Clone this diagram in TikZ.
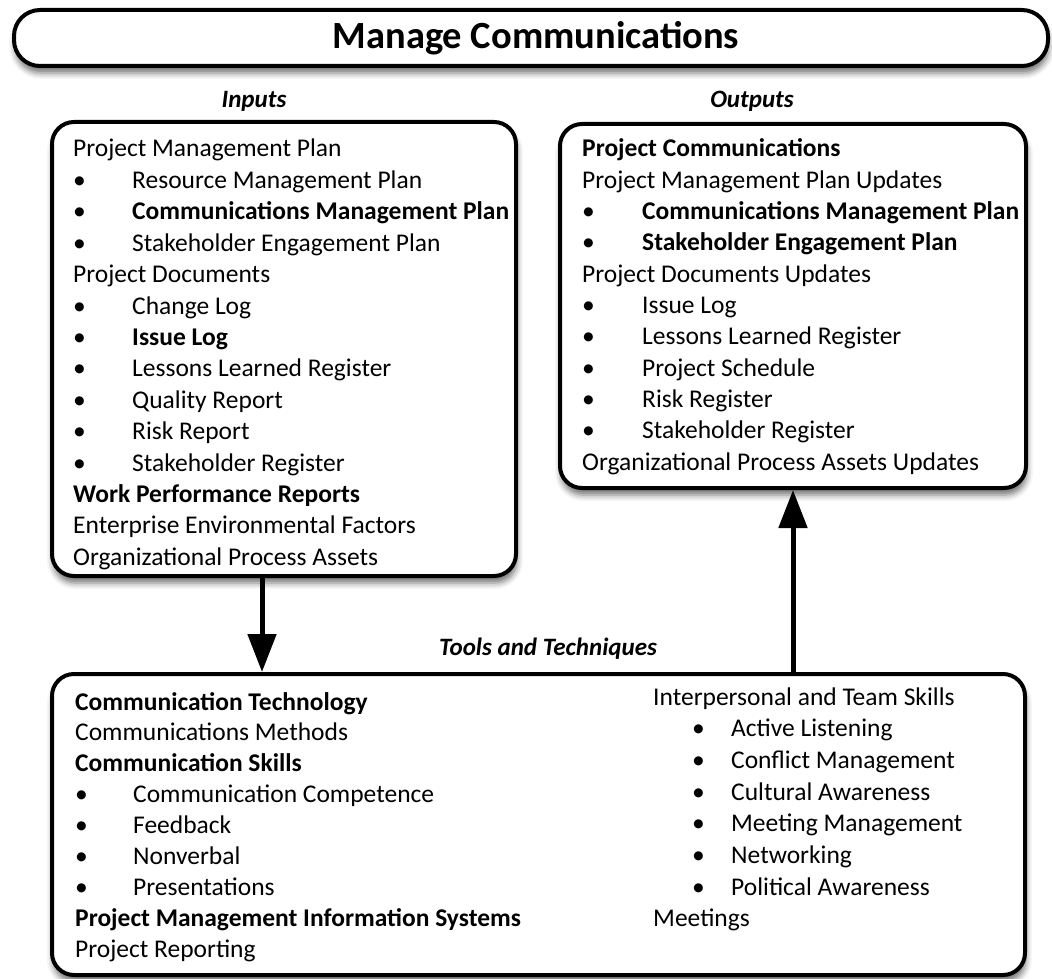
\documentclass[tikz,border=0pt]{standalone}
\usepackage{fontspec}
\setmainfont{Carlito}
\usetikzlibrary{
  arrows.meta,
  shadows.blur
}
\newcommand{\blt}[2][59pt]{\makebox[#1][l]{\textbullet}#2}
\newcommand{\rblt}[1]{\makebox[78pt][l]{\hspace{39pt}\textbullet}#1}

\begin{document}
\begin{tikzpicture}[
  x=1pt, y=-1pt,
  font=\fontsize{25.5}{30}\selectfont,
  box/.style = {draw, line width=4pt, rounded corners=22pt, fill=white,
    blur shadow={shadow xshift=1pt, shadow yshift=-7pt,
      shadow blur radius=6pt, shadow opacity=55}},
  head/.style = {font=\fontsize{25}{30}\selectfont\bfseries\itshape,
    anchor=base, inner sep=0pt},
  line/.style = {anchor=base west, inner sep=0pt},
  flow/.style = {line width=5pt, -{Triangle[width=28pt,length=38pt]}}]
  \useasboundingbox (0,0) rectangle (1052,979);

  \node[box, rounded corners=26pt, minimum width=1034pt, minimum height=56pt,
    font=\fontsize{38.5}{42}\selectfont\bfseries] (title) at (531,38)
    {\hspace{10pt}Manage Communications};
  \node[box, minimum width=464pt, minimum height=454pt] (inputs) at (284,349) {};
  \node[box, minimum width=466pt, minimum height=364pt] (outputs) at (793,306) {};
  \node[box, minimum width=973pt, minimum height=301pt] (tools) at (538.5,824.5) {};

  \node[head] (inlabel) at (254,108) {Inputs};
  \node[head] (outlabel) at (752,108) {Outputs};
  \node[head] (toollabel) at (548,655) {Tools and Techniques};

  \foreach \t [count=\i] in {Project Management Plan,
      \blt{Resource Management Plan}, \blt{\textbf{Communications Management Plan}},
      \blt{Stakeholder Engagement Plan}, Project Documents, \blt{Change Log},
      \blt{\textbf{Issue Log}}, \blt{Lessons Learned Register}, \blt{Quality Report},
      \blt{Risk Report}, \blt{Stakeholder Register}, \textbf{Work Performance Reports},
      Enterprise Environmental Factors, Organizational Process Assets}
    \node[line] (in\i) at (73,{157+31.4*(\i-1)}) {\t};

  \foreach \t [count=\i] in {\textbf{Project Communications},
      Project Management Plan Updates, \blt[60pt]{\textbf{Communications Management Plan}},
      \blt[60pt]{\textbf{Stakeholder Engagement Plan}}, Project Documents Updates,
      \blt[60pt]{Issue Log}, \blt[60pt]{Lessons Learned Register},
      \blt[60pt]{Project Schedule}, \blt[60pt]{Risk Register},
      \blt[60pt]{Stakeholder Register}, Organizational Process Assets Updates}
    \node[line] (out\i) at (582,{157+31.3*(\i-1)}) {\t};

  \foreach \t [count=\i] in {\textbf{Communication Technology},
      Communications Methods, \textbf{Communication Skills},
      \blt[58pt]{Communication Competence}, \blt[58pt]{Feedback},
      \blt[58pt]{Nonverbal}, \blt[58pt]{Presentations},
      \textbf{Project Management Information Systems}, Project Reporting}
    \node[line] (tl\i) at (75,{710+30.9*(\i-1)}) {\t};

  \foreach \t [count=\i] in {Interpersonal and Team Skills,
      \rblt{Active Listening}, \rblt{Conflict Management}, \rblt{Cultural Awareness},
      \rblt{Meeting Management}, \rblt{Networking}, \rblt{Political Awareness},
      Meetings}
    \node[line] (tr\i) at (653,{705+31.7*(\i-1)}) {\t};

  \draw[flow] ([xshift=-22pt]inputs.south) -- ([xshift=-22pt]inputs.south |- tools.north);
  \draw[flow] (tools.north -| outputs.south) -- (outputs.south);
\end{tikzpicture}
\end{document}
